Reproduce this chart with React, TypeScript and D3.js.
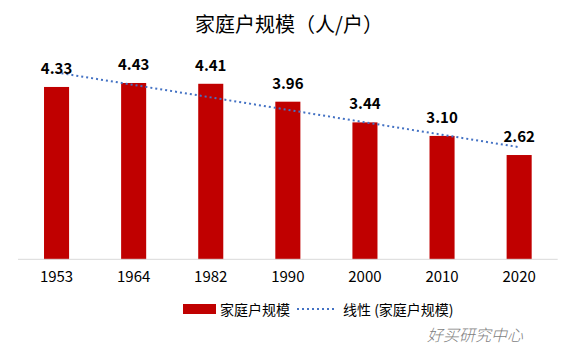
import React from "react";
import * as d3 from "d3";

const categories = ["1953", "1964", "1982", "1990", "2000", "2010", "2020"];
const values = [4.33, 4.43, 4.41, 3.96, 3.44, 3.1, 2.62];
const title = "家庭户规模（人/户）";
const seriesName = "家庭户规模";
const trendName = "线性 (家庭户规模)";
const watermark = "好买研究中心";

const W = 578;
const H = 357;
const FONT = "'Noto Sans CJK SC', 'Noto Sans', sans-serif";

export default function App() {
  const x = d3.scaleBand<string>().domain(categories).range([18, 557.7]).padding(0);
  const y = d3.scaleLinear().domain([0, 5]).range([259.3, 60.3]);
  const bw = x.bandwidth() * 0.325;
  const cx = (c: string) => (x(c) as number) + x.bandwidth() / 2;

  // linear trendline (least squares over category index)
  const n = values.length;
  const idx = d3.range(n);
  const mx = d3.mean(idx) as number;
  const my = d3.mean(values) as number;
  const slope =
    d3.sum(idx, (i) => (i - mx) * (values[i] - my)) / d3.sum(idx, (i) => (i - mx) * (i - mx));
  const intercept = my - slope * mx;
  const trendPts: [number, number][] = idx.map((i) => [cx(categories[i]), y(intercept + slope * i)]);
  const line = d3.line<[number, number]>().x((d) => d[0]).y((d) => d[1]);
  const fmt = d3.format(".2f");

  return (
    <div style={{ position: "absolute", left: 0, top: 0 }}>
      <svg width={W} height={H} style={{ display: "block", fontFamily: FONT }}>
        <rect width={W} height={H} fill="#fff" />
        <text x={289} y={32} textAnchor="middle" fontSize={20} fill="#000">
          {title}
        </text>
        {categories.map((c, i) => (
          <rect
            key={c}
            x={cx(c) - bw / 2}
            y={y(values[i])}
            width={bw}
            height={y(0) - y(values[i])}
            fill="#C00000"
          />
        ))}
        <line x1={18} x2={557.7} y1={y(0)} y2={y(0)} stroke="#d9d9d9" strokeWidth={1} />
        <path
          d={line(trendPts) as string}
          fill="none"
          stroke="#4472C4"
          strokeWidth={2}
          strokeDasharray="2 3"
        />
        {categories.map((c, i) => (
          <text
            key={c}
            x={cx(c)}
            y={y(values[i]) - 13}
            textAnchor="middle"
            fontSize={15}
            fontWeight="bold"
            fill="#000"
          >
            {fmt(values[i])}
          </text>
        ))}
        {categories.map((c) => (
          <text key={c} x={cx(c)} y={282} textAnchor="middle" fontSize={15} fill="#000">
            {c}
          </text>
        ))}
        <rect x={183} y={304} width={33} height={10} fill="#C00000" />
        <text x={220} y={309} dominantBaseline="central" fontSize={14} fill="#000">
          {seriesName}
        </text>
        <line x1={297} x2={335} y1={309} y2={309} stroke="#4472C4" strokeWidth={2} strokeDasharray="2 3" />
        <text x={343} y={309} dominantBaseline="central" fontSize={14} fill="#000">
          {trendName}
        </text>
        <text
          x={427}
          y={334}
          dominantBaseline="central"
          fontSize={16}
          fontStyle="italic"
          fill="#7f7f7f"
          fontWeight={300}
        >
          {watermark}
        </text>
      </svg>
    </div>
  );
}
